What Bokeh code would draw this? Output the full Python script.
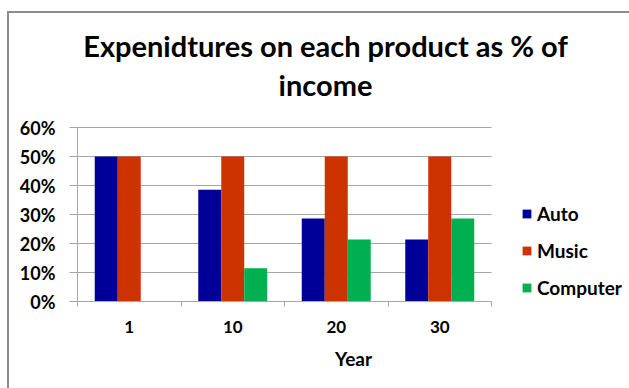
from bokeh.plotting import figure
from bokeh.models import (Range1d, LinearAxis, FixedTicker, NumeralTickFormatter, Grid,
                          Legend, LegendItem, Label, ColumnDataSource)
from bokeh.transform import dodge
from bokeh.embed import file_html
from bokeh.resources import INLINE

# ---- data ----
years = ["1", "10", "20", "30"]
auto = [0.50, 0.385, 0.286, 0.214]
music = [0.50, 0.50, 0.50, 0.50]
computer = [0.0, 0.115, 0.214, 0.286]
series_names = ["Auto", "Music", "Computer"]
y_ticks = [0, 0.1, 0.2, 0.3, 0.4, 0.5, 0.6]
title_lines = ["Expenidtures on each product as % of", "income"]
x_title = "Year"

colors = ["#000099", "#CC3300", "#00B050"]
FONT = "Lato"
GRID = "#A6A6A6"
BORDER = "#8C8C8C"

# ---- layout geometry (pixels) ----
W, H = 629, 388
PLOT_L, PLOT_R, PLOT_T, PLOT_B = 77, 491, 127, 301   # bar area
n = len(years)
y_max = y_ticks[-1]
# frame spans to the right/top edges so that title and legend are drawn inside it
x_end = n * (W - PLOT_L) / (PLOT_R - PLOT_L)
y_end = y_max * PLOT_B / (PLOT_B - PLOT_T)

centers = [i + 0.5 for i in range(n)]
src = ColumnDataSource(dict(pos=centers, Auto=auto, Music=music, Computer=computer))

# chart-area border drawn as CSS background lines behind a transparent canvas
bg = (f"linear-gradient({BORDER}, {BORDER}) 7px 11px / 700px 2px no-repeat, "
      f"linear-gradient({BORDER}, {BORDER}) 7px 11px / 2px 500px no-repeat, white")

p = figure(width=W, height=H, x_range=Range1d(0, x_end), y_range=Range1d(0, y_end),
           x_axis_type=None, y_axis_type=None,
           output_backend="svg", toolbar_location=None, title=None,
           min_border_left=PLOT_L, min_border_right=0, min_border_top=0,
           min_border_bottom=H - PLOT_B,
           styles={"background": bg})
p.outline_line_color = None
p.background_fill_color = None
p.border_fill_color = None

# y axis
yax = LinearAxis(ticker=FixedTicker(ticks=y_ticks), formatter=NumeralTickFormatter(format="0%"),
                 bounds=(0, y_max))
yax.axis_line_color = GRID
yax.major_tick_line_color = GRID
yax.major_tick_out = 8
yax.major_tick_in = 0
yax.minor_tick_line_color = None
yax.major_label_standoff = 14
yax.major_label_text_font = FONT
yax.major_label_text_font_style = "bold"
yax.major_label_text_font_size = "18px"
yax.major_label_text_color = "black"
p.add_layout(yax, "left")

# x axis: labels at category centres, ticks at category boundaries
xax = LinearAxis(ticker=FixedTicker(ticks=centers, minor_ticks=list(range(n + 1))),
                 bounds=(0, n))
xax.major_label_overrides = {c: y for c, y in zip(centers, years)}
xax.axis_line_color = GRID
xax.major_tick_line_color = None
xax.major_tick_out = 0
xax.major_tick_in = 0
xax.minor_tick_line_color = GRID
xax.minor_tick_out = 5
xax.minor_tick_in = 0
xax.major_label_standoff = 14
xax.major_label_text_font = FONT
xax.major_label_text_font_style = "bold"
xax.major_label_text_font_size = "17px"
xax.major_label_text_color = "black"
xax.axis_label = x_title
xax.axis_label_text_font = FONT
xax.axis_label_text_font_style = "bold"
xax.axis_label_text_font_size = "19px"
xax.axis_label_text_color = "black"
xax.axis_label_standoff = 11
p.add_layout(xax, "below")

# horizontal gridlines limited to the bar area
if "cross_bounds" in Grid.properties():
    p.add_layout(Grid(dimension=1, ticker=FixedTicker(ticks=y_ticks), grid_line_color=GRID,
                      cross_bounds=(0, n)))
else:
    p.segment(x0=0, x1=n, y0=y_ticks, y1=y_ticks, line_color=GRID, line_width=1)

# bars
bw = 2 / 9
offsets = [-bw, 0, bw]
renderers = []
for name, col, off in zip(series_names, colors, offsets):
    r = p.vbar(x=dodge("pos", off), top=name, width=bw, source=src,
               fill_color=col, line_color=None)
    renderers.append(r)

legend = Legend(items=[LegendItem(label=nm, renderers=[r]) for nm, r in zip(series_names, renderers)],
                location=(521 - PLOT_L, 2), orientation="vertical")
legend.padding = 0
legend.margin = 0
legend.border_line_color = None
legend.background_fill_alpha = 0
legend.glyph_width = 11
legend.glyph_height = 11
legend.label_height = 23
legend.spacing = 14
legend.label_standoff = 5
legend.label_text_font = FONT
legend.label_text_font_style = "bold"
legend.label_text_font_size = "19px"
legend.label_text_color = "black"
p.add_layout(legend, "center")

# title lines (screen units relative to the frame's bottom-left corner)
for txt, base in zip(title_lines, [45, 84]):
    p.add_layout(Label(x=325 - PLOT_L, y=PLOT_B - base, x_units="screen", y_units="screen",
                       text=txt, text_align="center", text_baseline="alphabetic",
                       text_font=FONT, text_font_style="bold", text_font_size="29px",
                       text_color="black"))

open("out.html", "w").write(file_html(p, INLINE))
